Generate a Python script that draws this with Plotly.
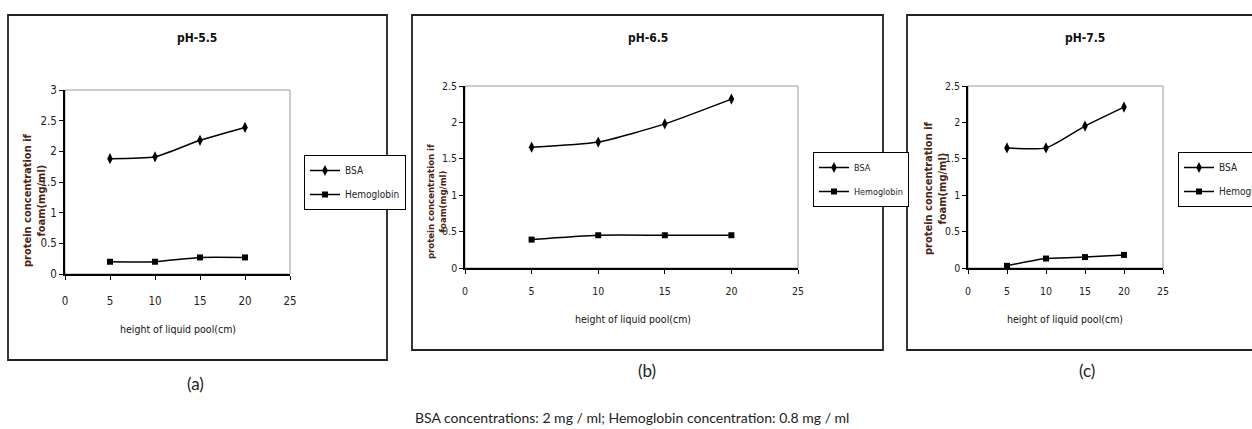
import plotly.graph_objects as go

W, H = 1252, 429

heights = [5, 10, 15, 20]
bsa_a = [1.88, 1.91, 2.18, 2.39]
hb_a = [0.20, 0.20, 0.27, 0.27]
bsa_b = [1.66, 1.73, 1.98, 2.32]
hb_b = [0.39, 0.45, 0.45, 0.45]
bsa_c = [1.65, 1.65, 1.95, 2.21]
hb_c = [0.03, 0.13, 0.15, 0.18]

titles = ["pH-5.5", "pH-6.5", "pH-7.5"]
sub_labels = ["(a)", "(b)", "(c)"]
x_title = "height of liquid pool(cm)"
y_title = "protein concentration if<br>foam(mg/ml)"
caption = "BSA concentrations: 2 mg / ml; Hemoglobin concentration: 0.8 mg / ml"
x_ticks = [0, 5, 10, 15, 20, 25]

NARROW = "Liberation Sans Narrow, Arial Narrow, DejaVu Sans Condensed, Liberation Sans, sans-serif"
YCOL = "#4b2312"


def px(x):
    return x / W


def py(y):
    return 1 - y / H


# panel geometry (pixels)
panels = [
    dict(box=(8, 15, 387, 360), plot=(65, 90, 290, 274), ymax=3.0,
         title=(197, 38), xt=(178, 329), yt=(34, 200), lab=(195, 383),
         leg=(304, 155), legfont=10, tfs=11.5, ytfs=11, standoff=11),
    dict(box=(412, 15, 883, 350), plot=(465, 86, 798, 268), ymax=2.5,
         title=(648, 38), xt=(633, 319), yt=(436, 202), lab=(647, 370),
         leg=(813, 152), legfont=9, tfs=10.5, ytfs=9.5, standoff=9),
    dict(box=(907, 15, 1262, 350), plot=(968, 86, 1163, 268), ymax=2.5,
         title=(1085, 38), xt=(1065, 319), yt=(935, 188), lab=(1087, 370),
         leg=(1178, 152), legfont=10, tfs=10.5, ytfs=11, standoff=9),
]
series = [(bsa_a, hb_a), (bsa_b, hb_b), (bsa_c, hb_c)]

fig = go.Figure()
shapes = []
annotations = []
layout = {}


def ann(text, x, y, font, angle=0):
    return dict(text=text, x=px(x), y=py(y), xref="paper", yref="paper",
                xanchor="center", yanchor="middle", showarrow=False,
                textangle=angle, font=font)


for i, (p, (bsa, hb)) in enumerate(zip(panels, series)):
    n = "" if i == 0 else str(i + 1)
    xa, ya = "x" + n, "y" + n
    legname = "legend" + n
    fig.add_trace(go.Scatter(
        x=heights, y=bsa, name="BSA", mode="lines+markers",
        line=dict(color="black", width=1.5, shape="spline", smoothing=0.6),
        marker=dict(symbol="diamond-tall", size=8, color="black"),
        xaxis=xa, yaxis=ya, legend=legname, legendgroup="bsa" + n))
    fig.add_trace(go.Scatter(
        x=heights, y=hb, name="Hemoglobin", mode="lines+markers",
        line=dict(color="black", width=1.5, shape="spline", smoothing=0.6),
        marker=dict(symbol="square", size=6, color="black"),
        xaxis=xa, yaxis=ya, legend=legname, legendgroup="hb" + n))

    x0, y0, x1, y1 = p["plot"]
    axis_common = dict(showgrid=False, zeroline=False, showline=True,
                       linecolor="black", linewidth=1.5, ticks="outside",
                       ticklen=4, tickcolor="black", tickwidth=1,
                       tickfont=dict(family=NARROW, size=p["tfs"], color="#222"))
    layout["xaxis" + n] = dict(domain=[px(x0), px(x1)], range=[0, 25],
                               tickvals=x_ticks, anchor=ya,
                               ticklabelstandoff=p["standoff"], **axis_common)
    layout["yaxis" + n] = dict(domain=[py(y1), py(y0)], range=[0, p["ymax"]],
                               dtick=0.5, anchor=xa, **axis_common)
    layout[legname] = dict(x=px(p["leg"][0]), y=py(p["leg"][1]),
                           xanchor="left", yanchor="top",
                           bordercolor="black", borderwidth=1, bgcolor="white",
                           font=dict(family=NARROW, size=p["legfont"], color="#222"),
                           itemwidth=30, traceorder="grouped", tracegroupgap=5)

    # panel frame
    bx0, by0, bx1, by1 = p["box"]
    shapes.append(dict(type="rect", xref="paper", yref="paper",
                       x0=px(bx0), y0=py(by1), x1=px(bx1), y1=py(by0),
                       line=dict(color="#222", width=1.8), layer="below"))
    # plot area gray border
    shapes.append(dict(type="rect", xref=xa + " domain", yref=ya + " domain",
                       x0=0, y0=0, x1=1, y1=1,
                       line=dict(color="#9a9a9a", width=1), layer="below"))

    annotations.append(ann("<b>" + titles[i] + "</b>", *p["title"],
                           font=dict(family=NARROW, size=12, color="#111")))
    annotations.append(ann(x_title, *p["xt"],
                           font=dict(family=NARROW, size=10.5, color="#111")))
    annotations.append(ann("<b>" + y_title + "</b>", *p["yt"],
                           font=dict(family=NARROW, size=p["ytfs"], color=YCOL), angle=-90))
    annotations.append(ann(sub_labels[i], *p["lab"],
                           font=dict(family="Lato, Open Sans, sans-serif", size=17, color="#222")))

annotations.append(ann(caption, 632, 417,
                       font=dict(family="Lato, Open Sans, sans-serif", size=14, color="#222")))

fig.update_layout(
    width=W, height=H,
    margin=dict(l=0, r=0, t=0, b=0, autoexpand=False),
    paper_bgcolor="white", plot_bgcolor="white",
    shapes=shapes, annotations=annotations,
    **layout,
)

fig.write_html("out.html")
